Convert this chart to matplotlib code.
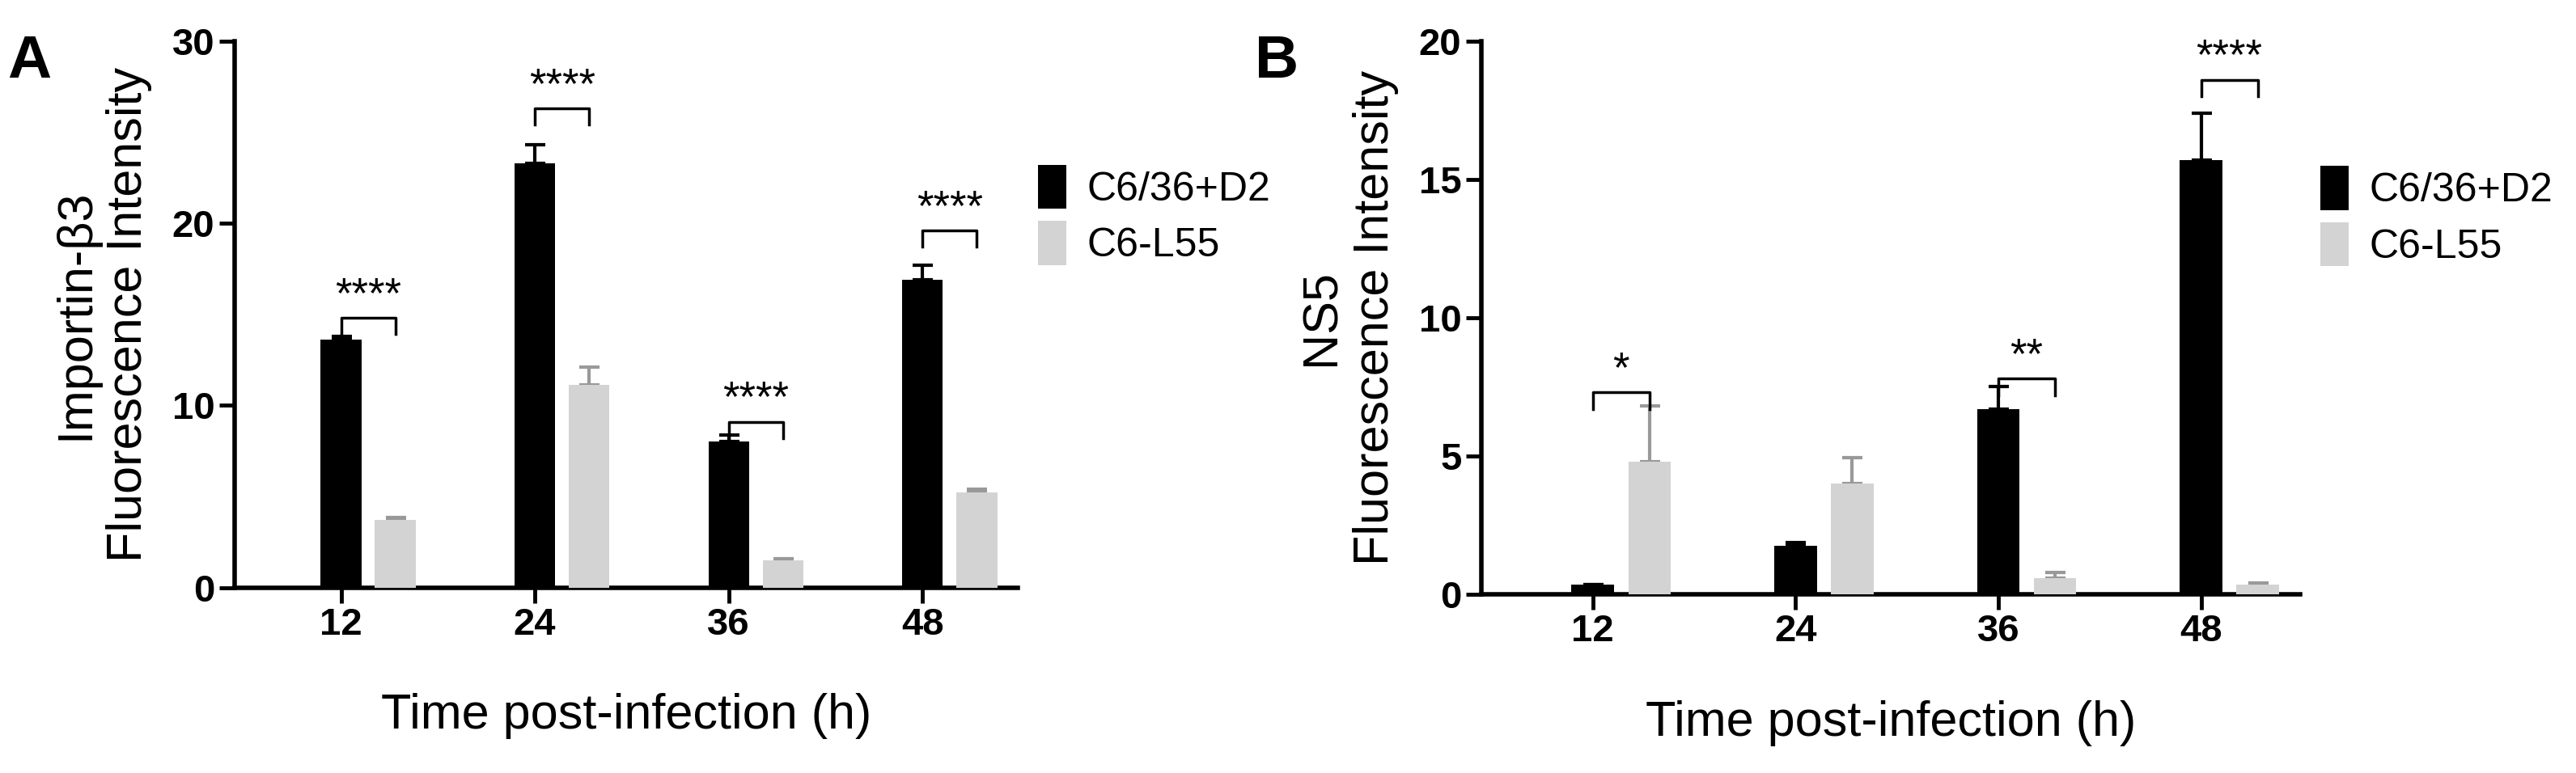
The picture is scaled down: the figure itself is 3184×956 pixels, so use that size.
import matplotlib
matplotlib.use('Agg')
import matplotlib.pyplot as plt
import numpy as np

plt.rcParams['font.family'] = ['Liberation Sans', 'DejaVu Sans']

times = ['12', '24', '36', '48']
labels = ['C6/36+D2', 'C6-L55']

a_d2 = [13.6, 23.3, 8.0, 16.9]
a_d2_err = [0.2, 1.0, 0.35, 0.8]
a_l55 = [3.7, 11.1, 1.5, 5.2]
a_l55_err = [0.12, 1.0, 0.1, 0.2]
a_sig = ['****', '****', '****', '****']
a_sig_y = [14.8, 26.3, 9.1, 19.6]

b_d2 = [0.35, 1.75, 6.7, 15.7]
b_d2_err = [0.0, 0.12, 0.8, 1.7]
b_l55 = [4.8, 4.0, 0.6, 0.35]
b_l55_err = [2.0, 0.95, 0.2, 0.06]
b_sig = ['*', '', '**', '****']
b_sig_y = [7.3, 0, 7.8, 18.6]

fig = plt.figure(figsize=(31.84, 9.56), dpi=100)
axA = fig.add_axes([0.091, 0.24, 0.304, 0.707])
axB = fig.add_axes([0.575, 0.231, 0.318, 0.716])

def panel(ax, d2, d2e, l55, l55e, sig, sig_y, ymax, step, ylabel, letter, span):
    x = np.arange(len(times))
    w = 0.21
    off = 0.28
    ax.bar(x, d2, w, color='black', label=labels[0], zorder=3)
    ax.bar(x + off, l55, w, color='#d3d3d3', label=labels[1], zorder=3)
    ax.errorbar(x, d2, yerr=[np.zeros(4), d2e], fmt='none', ecolor='black', capsize=9, elinewidth=3, capthick=3, zorder=2)
    ax.errorbar(x + off, l55, yerr=[np.zeros(4), l55e], fmt='none', ecolor='#999999', capsize=9, elinewidth=3, capthick=3, zorder=2)
    h = ymax * 0.03
    for xi, s, y in zip(x, sig, sig_y):
        if not s:
            continue
        ax.plot([xi, xi, xi + off, xi + off], [y - h, y, y, y - h], color='black', lw=2.5)
        ax.text(xi + off / 2, y + ymax * 0.003, s, ha='center', va='bottom', fontsize=38)
    ax.set_xlim(-0.55, 3.49)
    ax.set_ylim(0, ymax)
    ax.set_yticks(np.arange(0, ymax + 0.1, step))
    ax.set_xticks(x)
    ax.set_xticklabels(times, fontweight='bold')
    ax.tick_params(labelsize=34, width=3.5, length=14)
    for t in ax.get_yticklabels():
        t.set_fontweight('bold')
    ax.spines['top'].set_visible(False)
    ax.spines['right'].set_visible(False)
    ax.spines['left'].set_linewidth(4)
    ax.spines['bottom'].set_linewidth(4)
    ax.set_ylabel(ylabel, fontsize=44, labelpad=18)
    ax.set_xlabel('Time post-infection (h)', fontsize=44, labelpad=45)
    ax.legend(loc='upper left', bbox_to_anchor=(span, 0.84), frameon=False, fontsize=36,
              handlelength=0.7, handleheight=1.3, handletextpad=0.5, labelspacing=0.3)
    fig.text(ax.get_position().x0 - 0.088, 0.90, letter, fontsize=54, fontweight='bold')

panel(axA, a_d2, a_d2_err, a_l55, a_l55_err, a_sig, a_sig_y, 30, 10,
      'Importin-β3\nFluorescence Intensity', 'A', 0.98)
panel(axB, b_d2, b_d2_err, b_l55, b_l55_err, b_sig, b_sig_y, 20, 5,
      'NS5\nFluorescence Intensity', 'B', 0.98)

fig.savefig('out.png', dpi=100)
